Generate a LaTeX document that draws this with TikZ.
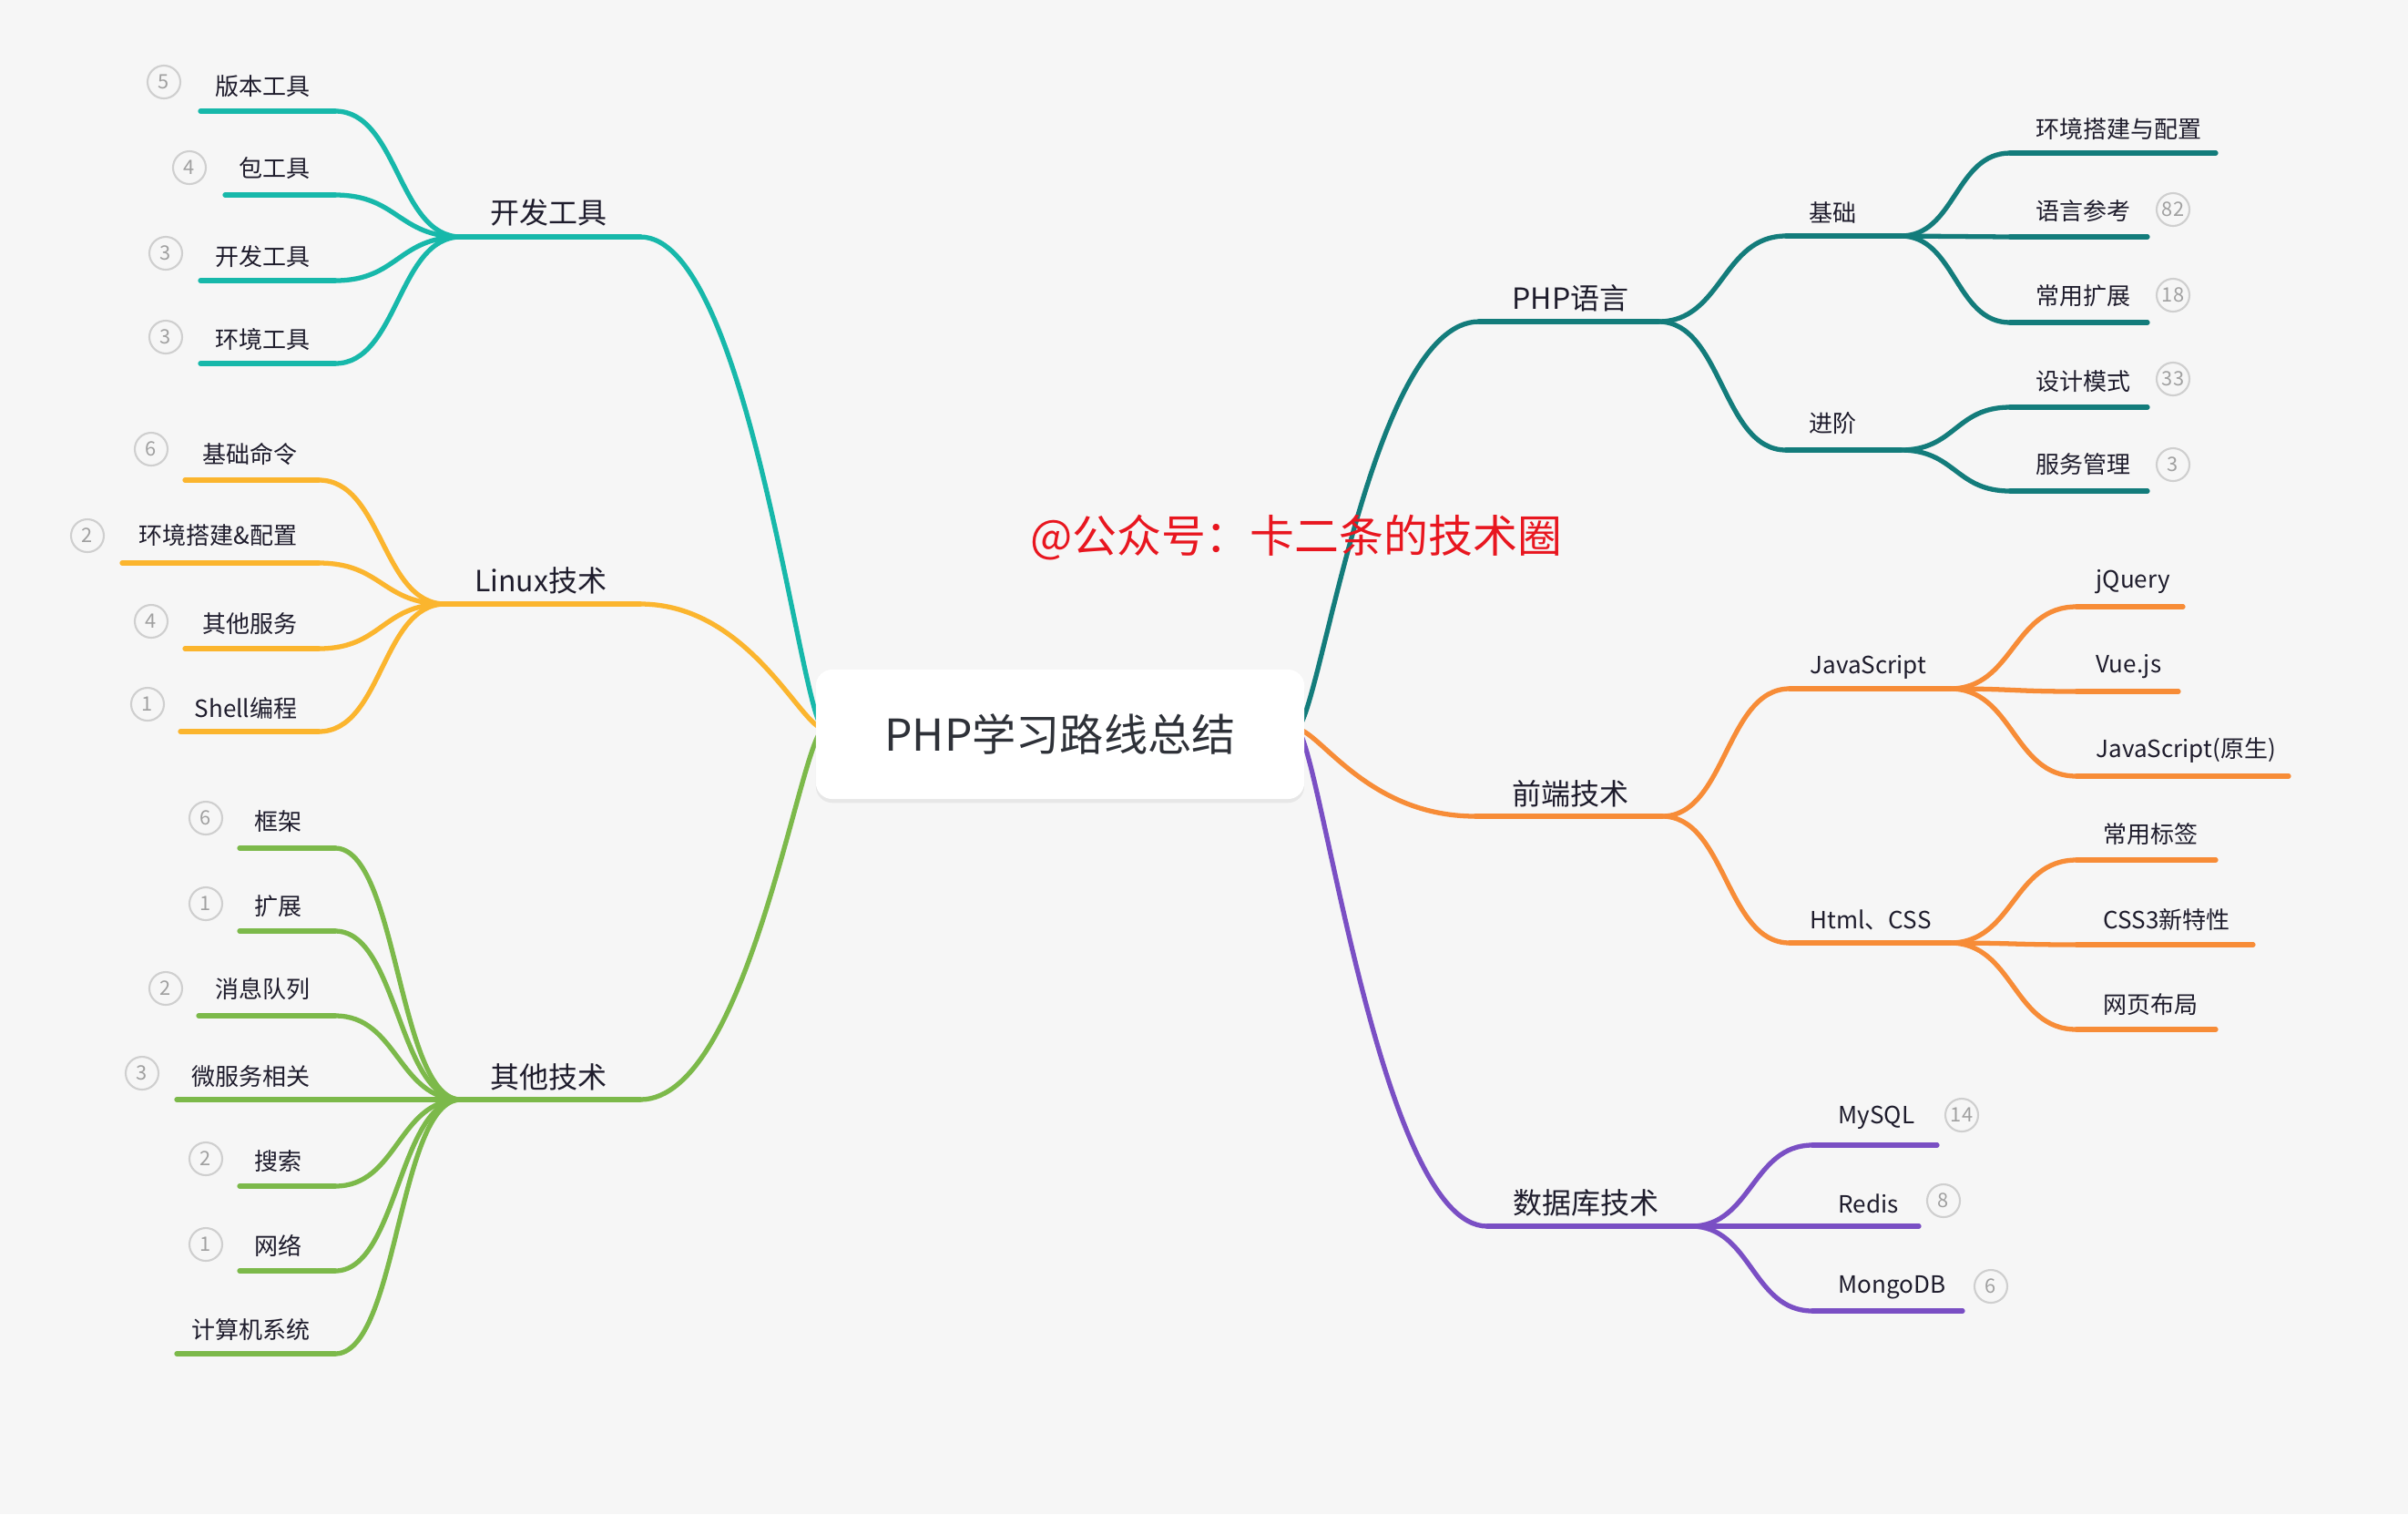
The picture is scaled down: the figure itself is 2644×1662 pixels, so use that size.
\documentclass[tikz,border=0pt]{standalone}
\usepackage{fontspec}
\setmainfont{Noto Sans CJK SC}
\usetikzlibrary{positioning,shadows}
\definecolor{paperGrey}{HTML}{F6F6F6}
\definecolor{inkNavy}{HTML}{1E1C2C}
\definecolor{titleGrey}{HTML}{2E3138}
\definecolor{tealA}{HTML}{17B8AA}
\definecolor{amberB}{HTML}{FBB52E}
\definecolor{greenC}{HTML}{7CB94A}
\definecolor{petrolD}{HTML}{137C7B}
\definecolor{orangeE}{HTML}{F78C37}
\definecolor{violetF}{HTML}{7A4FC4}
\definecolor{ringGrey}{HTML}{CFCFCF}
\definecolor{countGrey}{HTML}{A0A0A0}
\definecolor{markRed}{HTML}{E8161F}

\begin{document}
\begin{tikzpicture}[x=0.01cm,y=-0.01cm,
  wire/.style={line width=1.5pt,line cap=round},
  tealW/.style={wire,draw=tealA},
  amberW/.style={wire,draw=amberB},
  greenW/.style={wire,draw=greenC},
  petrolW/.style={wire,draw=petrolD},
  orangeW/.style={wire,draw=orangeE},
  violetW/.style={wire,draw=violetF},
  root/.style={rounded corners=0.18cm,fill=white,minimum width=5.36cm,minimum height=1.42cm,
    text=titleGrey,font=\fontsize{13.7}{16}\selectfont,
    drop shadow={shadow xshift=0pt,shadow yshift=-1.2pt,opacity=0.06,fill=black}},
  topic/.style={inner sep=0pt,text=inkNavy,font=\fontsize{9.1}{11}\selectfont},
  item/.style={inner sep=0pt,text=inkNavy,font=\fontsize{7.4}{9}\selectfont},
  cnt/.style={circle,draw=ringGrey,line width=0.6pt,minimum size=0.36cm,inner sep=0pt,
    text=countGrey,font=\fontsize{6.2}{7}\selectfont},
  wmark/.style={inner sep=0pt,text=markRed,font=\fontsize{13.9}{16}\selectfont}]
\fill[paperGrey] (0,0) rectangle (2644,1662);
\useasboundingbox (0,0) rectangle (2644,1662);
\coordinate (rootW) at (905,800);
\coordinate (rootE) at (1423,800);

% left: 开发工具
\draw[tealW] (506,260) coordinate (kfgj-a) -- (703,260) coordinate (kfgj-b);
\draw[tealW] (kfgj-b) .. controls +(120,0) and +(-25,0) .. (rootW);
\node[topic,anchor=east] (kfgj) at (667,233) {开发工具};
\draw[tealW] (220,122) coordinate (bbgj-a) -- (368,122) coordinate (bbgj-b);
\draw[tealW] (247,214) coordinate (bgj-a) -- (368,214) coordinate (bgj-b);
\draw[tealW] (220,308) coordinate (kfgj2-a) -- (368,308) coordinate (kfgj2-b);
\draw[tealW] (220,399) coordinate (hjgj-a) -- (368,399) coordinate (hjgj-b);
\draw[tealW] (bbgj-b) .. controls +(69,0) and +(-69,0) .. (kfgj-a);
\draw[tealW] (bgj-b) .. controls +(69,0) and +(-69,0) .. (kfgj-a);
\draw[tealW] (kfgj2-b) .. controls +(69,0) and +(-69,0) .. (kfgj-a);
\draw[tealW] (hjgj-b) .. controls +(69,0) and +(-69,0) .. (kfgj-a);
\node[item,anchor=east] (bbgj) at (341,95) {版本工具};
\node[item,anchor=east] (bgj) at (341,185) {包工具};
\node[item,anchor=east] (kfgj2) at (341,282) {开发工具};
\node[item,anchor=east] (hjgj) at (341,373) {环境工具};
\node[cnt] (bbgjn) at (180,90) {5};
\node[cnt] (bgjn) at (208,184) {4};
\node[cnt] (kfgj2n) at (182,278) {3};
\node[cnt] (hjgjn) at (182,370) {3};

% left: Linux技术
\draw[amberW] (489,663) coordinate (linux-a) -- (703,663) coordinate (linux-b);
\draw[amberW] (linux-b) .. controls +(120,0) and +(-25,0) .. (rootW);
\node[topic,anchor=east] (linux) at (667,637) {Linux技术};
\draw[amberW] (203,527) coordinate (jcml-a) -- (350,527) coordinate (jcml-b);
\draw[amberW] (134,618) coordinate (hjpz-a) -- (350,618) coordinate (hjpz-b);
\draw[amberW] (203,712) coordinate (qtfw-a) -- (350,712) coordinate (qtfw-b);
\draw[amberW] (198,803) coordinate (shell-a) -- (350,803) coordinate (shell-b);
\draw[amberW] (jcml-b) .. controls +(70,0) and +(-70,0) .. (linux-a);
\draw[amberW] (hjpz-b) .. controls +(70,0) and +(-70,0) .. (linux-a);
\draw[amberW] (qtfw-b) .. controls +(70,0) and +(-70,0) .. (linux-a);
\draw[amberW] (shell-b) .. controls +(70,0) and +(-70,0) .. (linux-a);
\node[item,anchor=east] (jcml) at (327,498) {基础命令};
\node[item,anchor=east] (hjpz) at (327,588) {环境搭建\&配置};
\node[item,anchor=east] (qtfw) at (327,685) {其他服务};
\node[item,anchor=east] (shell) at (327,777) {Shell编程};
\node[cnt] (jcmln) at (166,493) {6};
\node[cnt] (hjpzn) at (96,588) {2};
\node[cnt] (qtfwn) at (166,682) {4};
\node[cnt] (shelln) at (162,773) {1};

% left: 其他技术
\draw[greenW] (506,1207) coordinate (qtjs-a) -- (703,1207) coordinate (qtjs-b);
\draw[greenW] (qtjs-b) .. controls +(120,0) and +(-25,0) .. (rootW);
\node[topic,anchor=east] (qtjs) at (667,1182) {其他技术};
\draw[greenW] (263,931) coordinate (kj-a) -- (368,931) coordinate (kj-b);
\draw[greenW] (263,1022) coordinate (kz-a) -- (368,1022) coordinate (kz-b);
\draw[greenW] (218,1115) coordinate (xxdl-a) -- (368,1115) coordinate (xxdl-b);
\draw[greenW] (194,1207) coordinate (wfw-a) -- (368,1207) coordinate (wfw-b);
\draw[greenW] (263,1302) coordinate (ss-a) -- (368,1302) coordinate (ss-b);
\draw[greenW] (263,1395) coordinate (wl-a) -- (368,1395) coordinate (wl-b);
\draw[greenW] (194,1486) coordinate (jsj-a) -- (368,1486) coordinate (jsj-b);
\draw[greenW] (kj-b) .. controls +(69,0) and +(-69,0) .. (qtjs-a);
\draw[greenW] (kz-b) .. controls +(69,0) and +(-69,0) .. (qtjs-a);
\draw[greenW] (xxdl-b) .. controls +(69,0) and +(-69,0) .. (qtjs-a);
\draw[greenW] (wfw-b) -- (qtjs-a);
\draw[greenW] (ss-b) .. controls +(69,0) and +(-69,0) .. (qtjs-a);
\draw[greenW] (wl-b) .. controls +(69,0) and +(-69,0) .. (qtjs-a);
\draw[greenW] (jsj-b) .. controls +(69,0) and +(-69,0) .. (qtjs-a);
\node[item,anchor=east] (kj) at (332,902) {框架};
\node[item,anchor=east] (kz) at (332,995) {扩展};
\node[item,anchor=east] (xxdl) at (341,1086) {消息队列};
\node[item,anchor=east] (wfw) at (341,1182) {微服务相关};
\node[item,anchor=east] (ss) at (332,1275) {搜索};
\node[item,anchor=east] (wl) at (332,1367) {网络};
\node[item,anchor=east] (jsj) at (341,1460) {计算机系统};
\node[cnt] (kjn) at (226,898) {6};
\node[cnt] (kzn) at (226,992) {1};
\node[cnt] (xxdln) at (182,1085) {2};
\node[cnt] (wfwn) at (156,1178) {3};
\node[cnt] (ssn) at (226,1272) {2};
\node[cnt] (wln) at (226,1366) {1};

% right: PHP语言
\draw[petrolW] (1624,353) coordinate (php-a) -- (1821,353) coordinate (php-b);
\draw[petrolW] (rootE) .. controls +(25,0) and +(-120,0) .. (php-a);
\node[topic,anchor=west] (php) at (1660,327) {PHP语言};
\draw[petrolW] (1961,259) coordinate (jc-a) -- (2087,259) coordinate (jc-b);
\draw[petrolW] (1961,494) coordinate (jj-a) -- (2087,494) coordinate (jj-b);
\draw[petrolW] (php-b) .. controls +(70,0) and +(-70,0) .. (jc-a);
\draw[petrolW] (php-b) .. controls +(70,0) and +(-70,0) .. (jj-a);
\node[item,anchor=west] (jc) at (1986,233) {基础};
\node[item,anchor=west] (jj) at (1986,465) {进阶};
\draw[petrolW] (2207,168) coordinate (hjdj-a) -- (2433,168) coordinate (hjdj-b);
\draw[petrolW] (2207,260) coordinate (yyck-a) -- (2358,260) coordinate (yyck-b);
\draw[petrolW] (2207,354) coordinate (cykz-a) -- (2358,354) coordinate (cykz-b);
\draw[petrolW] (2207,447) coordinate (sjms-a) -- (2358,447) coordinate (sjms-b);
\draw[petrolW] (2207,539) coordinate (fwgl-a) -- (2358,539) coordinate (fwgl-b);
\draw[petrolW] (jc-b) .. controls +(60,0) and +(-60,0) .. (hjdj-a);
\draw[petrolW] (jc-b) .. controls +(60,0) and +(-60,0) .. (yyck-a);
\draw[petrolW] (jc-b) .. controls +(60,0) and +(-60,0) .. (cykz-a);
\draw[petrolW] (jj-b) .. controls +(60,0) and +(-60,0) .. (sjms-a);
\draw[petrolW] (jj-b) .. controls +(60,0) and +(-60,0) .. (fwgl-a);
\node[item,anchor=west] (hjdj) at (2235,142) {环境搭建与配置};
\node[item,anchor=west] (yyck) at (2235,232) {语言参考};
\node[item,anchor=west] (cykz) at (2235,325) {常用扩展};
\node[item,anchor=west] (sjms) at (2235,419) {设计模式};
\node[item,anchor=west] (fwgl) at (2235,510) {服务管理};
\node[cnt] (yyckn) at (2386,230) {82};
\node[cnt] (cykzn) at (2386,324) {18};
\node[cnt] (sjmsn) at (2386,416) {33};
\node[cnt] (fwgln) at (2386,510) {3};

% right: 前端技术
\draw[orangeW] (1620,896) coordinate (qd-a) -- (1825,896) coordinate (qd-b);
\draw[orangeW] (rootE) .. controls +(25,0) and +(-120,0) .. (qd-a);
\node[topic,anchor=west] (qd) at (1660,871) {前端技术};
\draw[orangeW] (1965,756) coordinate (js-a) -- (2141,756) coordinate (js-b);
\draw[orangeW] (1965,1035) coordinate (hc-a) -- (2141,1035) coordinate (hc-b);
\draw[orangeW] (qd-b) .. controls +(70,0) and +(-70,0) .. (js-a);
\draw[orangeW] (qd-b) .. controls +(70,0) and +(-70,0) .. (hc-a);
\node[item,anchor=west] (js) at (1987,732) {JavaScript};
\node[item,anchor=west] (hc) at (1987,1010) {Html、CSS};
\draw[orangeW] (2280,666) coordinate (jq-a) -- (2397,666) coordinate (jq-b);
\draw[orangeW] (2280,759) coordinate (vue-a) -- (2392,759) coordinate (vue-b);
\draw[orangeW] (2280,852) coordinate (jsys-a) -- (2513,852) coordinate (jsys-b);
\draw[orangeW] (2280,944) coordinate (cybq-a) -- (2433,944) coordinate (cybq-b);
\draw[orangeW] (2280,1037) coordinate (css3-a) -- (2474,1037) coordinate (css3-b);
\draw[orangeW] (2280,1130) coordinate (wybj-a) -- (2433,1130) coordinate (wybj-b);
\draw[orangeW] (js-b) .. controls +(70,0) and +(-70,0) .. (jq-a);
\draw[orangeW] (js-b) .. controls +(70,0) and +(-70,0) .. (vue-a);
\draw[orangeW] (js-b) .. controls +(70,0) and +(-70,0) .. (jsys-a);
\draw[orangeW] (hc-b) .. controls +(70,0) and +(-70,0) .. (cybq-a);
\draw[orangeW] (hc-b) .. controls +(70,0) and +(-70,0) .. (css3-a);
\draw[orangeW] (hc-b) .. controls +(70,0) and +(-70,0) .. (wybj-a);
\node[item,anchor=west] (jq) at (2301,639) {jQuery};
\node[item,anchor=west] (vue) at (2301,732) {Vue.js};
\node[item,anchor=west] (jsys) at (2301,824) {JavaScript(原生)};
\node[item,anchor=west] (cybq) at (2309,916) {常用标签};
\node[item,anchor=west] (css3) at (2309,1010) {CSS3新特性};
\node[item,anchor=west] (wybj) at (2309,1103) {网页布局};

% right: 数据库技术
\draw[violetW] (1633,1346) coordinate (db-a) -- (1857,1346) coordinate (db-b);
\draw[violetW] (rootE) .. controls +(25,0) and +(-120,0) .. (db-a);
\node[topic,anchor=west] (db) at (1661,1320) {数据库技术};
\draw[violetW] (1990,1257) coordinate (mysql-a) -- (2127,1257) coordinate (mysql-b);
\draw[violetW] (1990,1346) coordinate (redis-a) -- (2107,1346) coordinate (redis-b);
\draw[violetW] (1990,1439) coordinate (mongo-a) -- (2155,1439) coordinate (mongo-b);
\draw[violetW] (db-b) .. controls +(66,0) and +(-66,0) .. (mysql-a);
\draw[violetW] (db-b) -- (redis-a);
\draw[violetW] (db-b) .. controls +(66,0) and +(-66,0) .. (mongo-a);
\node[item,anchor=west] (mysql) at (2018,1227) {MySQL};
\node[item,anchor=west] (redis) at (2018,1321) {Redis};
\node[item,anchor=west] (mongo) at (2018,1413) {MongoDB};
\node[cnt] (mysqln) at (2154,1224) {14};
\node[cnt] (redisn) at (2134,1318) {8};
\node[cnt] (mongon) at (2186,1412) {6};

% centre topic and watermark
\node[root] (php-root) at (1164,806) {PHP学习路线总结};
\node[wmark] (wm) at (1423,590) {@公众号：卡二条的技术圈};
\end{tikzpicture}
\end{document}
